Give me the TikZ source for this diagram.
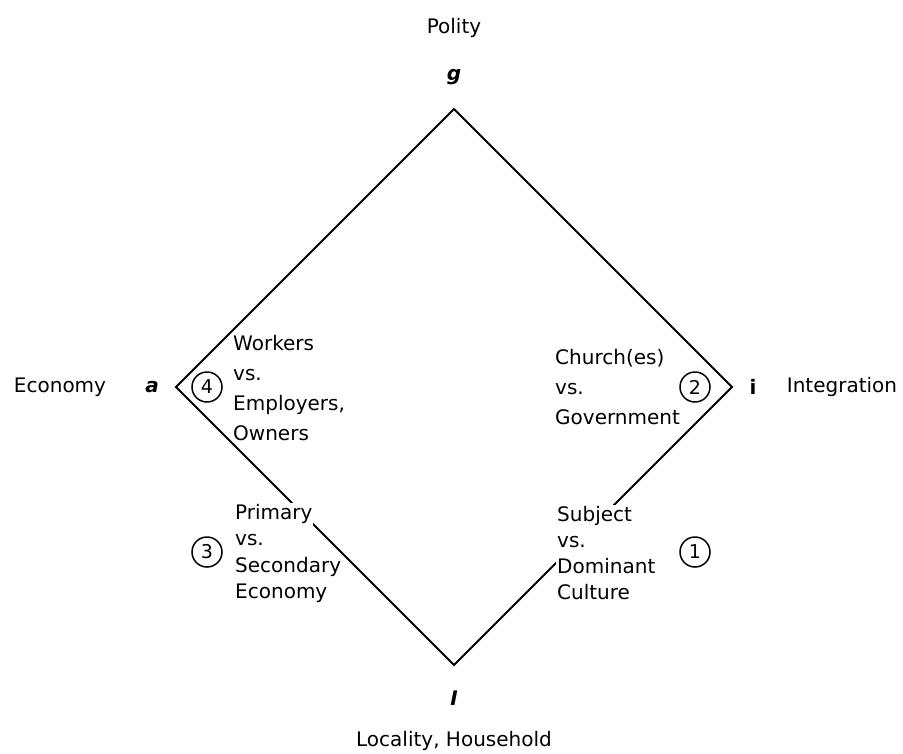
\documentclass[tikz,border=0pt]{standalone}
\usepackage{fontspec}
\setmainfont{DejaVu Sans}
\usetikzlibrary{positioning}

\tikzset{
  side/.style={line width=2pt},
  pair/.style={align=left, anchor=west, inner sep=1pt, font=\fontsize{20}{30}\selectfont},
  lowpair/.style={pair, font=\fontsize{20}{26}\selectfont},
  num/.style={circle, draw, line width=1.5pt, minimum size=30pt, inner sep=0pt, font=\fontsize{19}{19}\selectfont},
  lbl/.style={font=\fontsize{20}{24}\selectfont},
  tag/.style={font=\bfseries\fontsize{20}{24}\selectfont}
}

\begin{document}
\begin{tikzpicture}[x=1pt, y=-1pt, on grid]
  \useasboundingbox (0,0) rectangle (903,753);
  % corners of the diamond
  \coordinate (G) at (454,109);
  \coordinate (I) at (732,387);
  \coordinate (L) at (454,665);
  \coordinate (A) at (176,387);
  \draw[side] (G) -- (I) -- (L) -- (A) -- cycle;

  % labels at the corners
  \node[tag] (g) at (454,77) {\itshape g};
  \node[lbl] (polity) [above=49pt of g] {Polity};
  \node[tag] (a) at (152,387) {\itshape a};
  \node[lbl] (econ) [left=92pt of a] {Economy};
  \node[tag] (i) at (753,387) {i};
  \node[lbl] (integ) [right=89pt of i] {Integration};
  \node[tag] (l) at (454,698) {\itshape I};
  \node[lbl] (local) [below=43pt of l] {Locality, Household};

  % numbered pairs
  \node[num] (n4) at (207,387) {4};
  \node[num] (n2) at (695,387) {2};
  \node[num] (n3) [below=165pt of n4] {3};
  \node[num] (n1) [below=165pt of n2] {1};
  \node[pair] (work) at (232,388) {Workers\\vs.\\Employers,\\Owners};
  \node[pair] (church) at (554,387) {Church(es)\\vs.\\Government};
  \node[lowpair, fill=white, anchor=south west] (prim) at (234,547) {Primary\\vs.};
  \node[lowpair, anchor=north west] (sec) at ([yshift=-9pt]prim.south west) {Secondary\\Economy};
  \node[lowpair, fill=white] (subj) at (556,553) {Subject\\vs.\\Dominant\\Culture};
\end{tikzpicture}
\end{document}
